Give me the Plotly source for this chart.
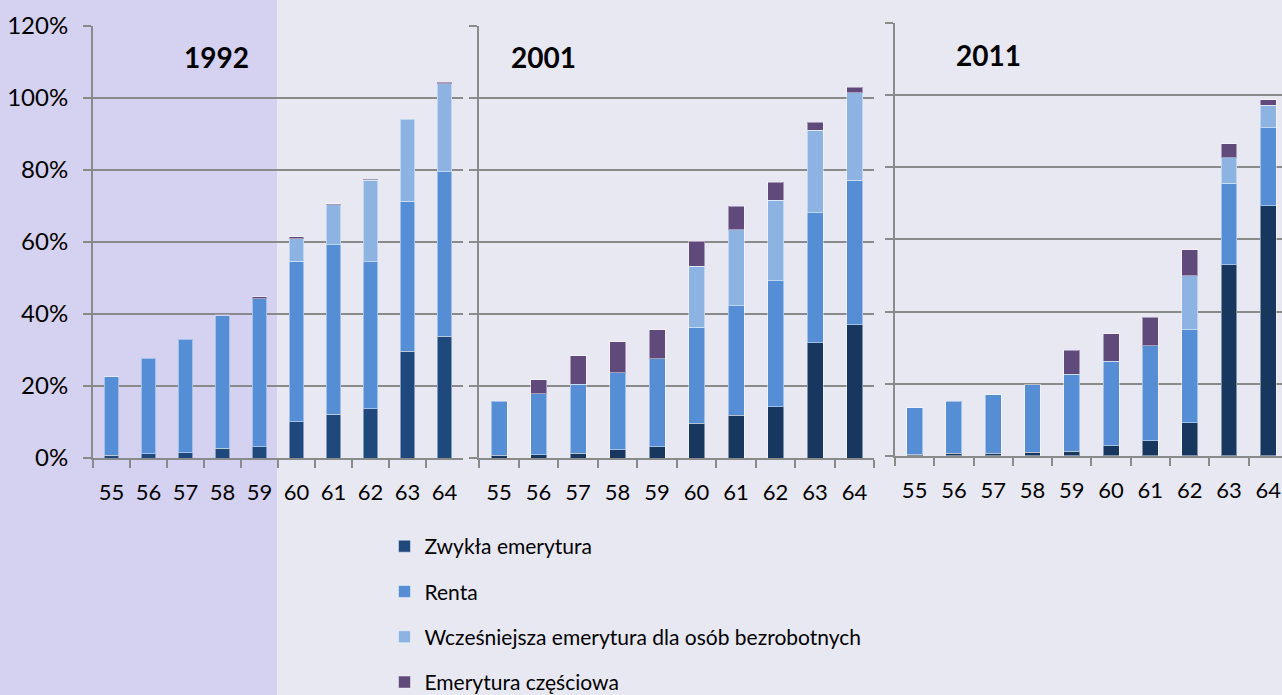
import plotly.graph_objects as go

# ---------------- data ----------------
ages = ["55", "56", "57", "58", "59", "60", "61", "62", "63", "64"]
years = ["1992", "2001", "2011"]
series_names = [
    "Zwykła emerytura",
    "Renta",
    "Wcześniejsza emerytura dla osób bezrobotnych",
    "Emerytura częściowa",
]

zwykla_1992 = [0.8, 1.2, 1.5, 2.7, 3.1, 10.1, 12.1, 13.6, 29.6, 33.8]
renta_1992 = [21.7, 26.5, 31.5, 36.9, 41.1, 44.5, 47.0, 40.8, 41.7, 45.6]
wczesniejsza_1992 = [0, 0, 0, 0, 0, 6.3, 11.1, 22.6, 22.7, 24.5]
czesciowa_1992 = [0, 0, 0, 0.3, 0.5, 0.5, 0.3, 0.3, 0, 0.3]

zwykla_2001 = [0.7, 0.9, 1.3, 2.3, 3.1, 9.6, 11.8, 14.2, 32.0, 37.0]
renta_2001 = [15.1, 16.9, 19.2, 21.4, 24.4, 26.7, 30.4, 35.0, 36.0, 40.1]
wczesniejsza_2001 = [0, 0, 0, 0, 0, 16.9, 21.2, 22.3, 22.9, 24.2]
czesciowa_2001 = [0, 3.9, 7.9, 8.5, 8.1, 7.0, 6.5, 5.0, 2.2, 1.6]

zwykla_2011 = [0.5, 0.7, 0.7, 1.0, 1.3, 2.9, 4.2, 9.2, 52.9, 69.3]
renta_2011 = [12.8, 14.4, 16.2, 18.7, 21.3, 23.3, 26.4, 25.8, 22.6, 21.6]
wczesniejsza_2011 = [0, 0, 0, 0, 0, 0, 0, 14.9, 7.1, 6.2]
czesciowa_2011 = [0, 0, 0, 0, 6.7, 7.6, 7.8, 7.2, 3.9, 1.5]

y_ticks = [0, 20, 40, 60, 80, 100, 120]
y_tick_labels = ["0%", "20%", "40%", "60%", "80%", "100%", "120%"]

# ---------------- styling ----------------
W, H = 1282, 695
FONT = "Lato"
GRID = "#8a8a8a"
colors_p1 = ["#1f497d", "#558ed5", "#8db3e2", "#604a7b"]
colors_p23 = ["#17375e", "#558ed5", "#8db3e2", "#604a7b"]

panel_data = [
    [zwykla_1992, renta_1992, wczesniejsza_1992, czesciowa_1992],
    [zwykla_2001, renta_2001, wczesniejsza_2001, czesciowa_2001],
    [zwykla_2011, renta_2011, wczesniejsza_2011, czesciowa_2011],
]
# pixel boxes (x0, x1, y_bottom, y_top)
boxes = [(93, 463, 458, 25.5), (479.3, 874.3, 458, 25.5), (895, 1282, 456, 22.7)]
x_ranges = [[-0.5, 9.5], [-0.5, 9.5], [-0.5, 9.35]]
title_pos = [(216, 57), (543, 57), (988, 55)]


def nz(vals):
    return [v if v else None for v in vals]


fig = go.Figure()

for p, data in enumerate(panel_data):
    sfx = "" if p == 0 else str(p + 1)
    cols = colors_p1 if p == 0 else colors_p23
    for s, vals in enumerate(data):
        fig.add_trace(
            go.Bar(
                x=ages,
                y=nz(vals),
                name=series_names[s],
                legendgroup=series_names[s],
                showlegend=(p == 0),
                marker=dict(color=cols[s], line=dict(color="rgba(255,255,255,0.45)", width=1)),
                xaxis="x" + sfx,
                yaxis="y" + sfx,
                hovertemplate="%{x}: %{y:.1f}%<extra>" + series_names[s] + "</extra>",
            )
        )

layout = dict(
    width=W,
    height=H,
    margin=dict(l=0, r=0, t=0, b=0, autoexpand=False),
    paper_bgcolor="#e8e8f3",
    plot_bgcolor="rgba(0,0,0,0)",
    barmode="stack",
    bargap=0.595,
    font=dict(family=FONT, size=21, color="#000000"),
    legend=dict(
        x=(406.5 - 22) / W,
        xanchor="left",
        y=1 - 526 / H,
        yanchor="top",
        traceorder="grouped",
        tracegroupgap=15,
        bgcolor="rgba(0,0,0,0)",
        font=dict(family=FONT, size=21, color="#000000"),
    ),
    shapes=[
        dict(
            type="rect", xref="paper", yref="paper",
            x0=0, x1=277 / W, y0=0, y1=1,
            fillcolor="#d4d2f0", line=dict(width=0), layer="below",
        )
    ],
    annotations=[],
)

for p in range(3):
    sfx = "" if p == 0 else str(p + 1)
    x0, x1, yb, yt = boxes[p]
    layout["xaxis" + sfx] = dict(
        domain=[x0 / W, x1 / W],
        anchor="y" + sfx,
        type="category",
        range=x_ranges[p],
        showline=True,
        linecolor=GRID,
        linewidth=2,
        ticks="outside",
        tickson="boundaries",
        ticklen=8,
        tickwidth=2,
        tickcolor=GRID,
        showgrid=False,
        tickangle=0,
        tickfont=dict(family=FONT, size=22, color="#000000"),
        ticklabelstandoff=14,
        fixedrange=True,
    )
    layout["yaxis" + sfx] = dict(
        domain=[1 - yb / H, 1 - yt / H],
        anchor="x" + sfx,
        range=[0, 120],
        tickmode="array",
        tickvals=y_ticks,
        ticktext=y_tick_labels,
        showticklabels=(p == 0),
        showline=True,
        linecolor=GRID,
        linewidth=2,
        ticks="outside",
        ticklen=8,
        tickwidth=2,
        tickcolor=GRID,
        showgrid=True,
        gridcolor=GRID,
        gridwidth=2,
        zeroline=False,
        tickfont=dict(family=FONT, size=24, color="#000000"),
        ticklabelstandoff=10,
        fixedrange=True,
    )
    tx, ty = title_pos[p]
    layout["annotations"].append(
        dict(
            text="<b>" + years[p] + "</b>",
            xref="paper", yref="paper",
            x=tx / W, y=1 - ty / H,
            xanchor="center", yanchor="middle",
            showarrow=False,
            font=dict(family=FONT, size=28, color="#000000"),
        )
    )

fig.update_layout(**layout)

fig.write_html(
    "out.html",
    config={"displayModeBar": False},
    post_script="document.body.style.margin='0';document.body.style.overflow='hidden';",
)
